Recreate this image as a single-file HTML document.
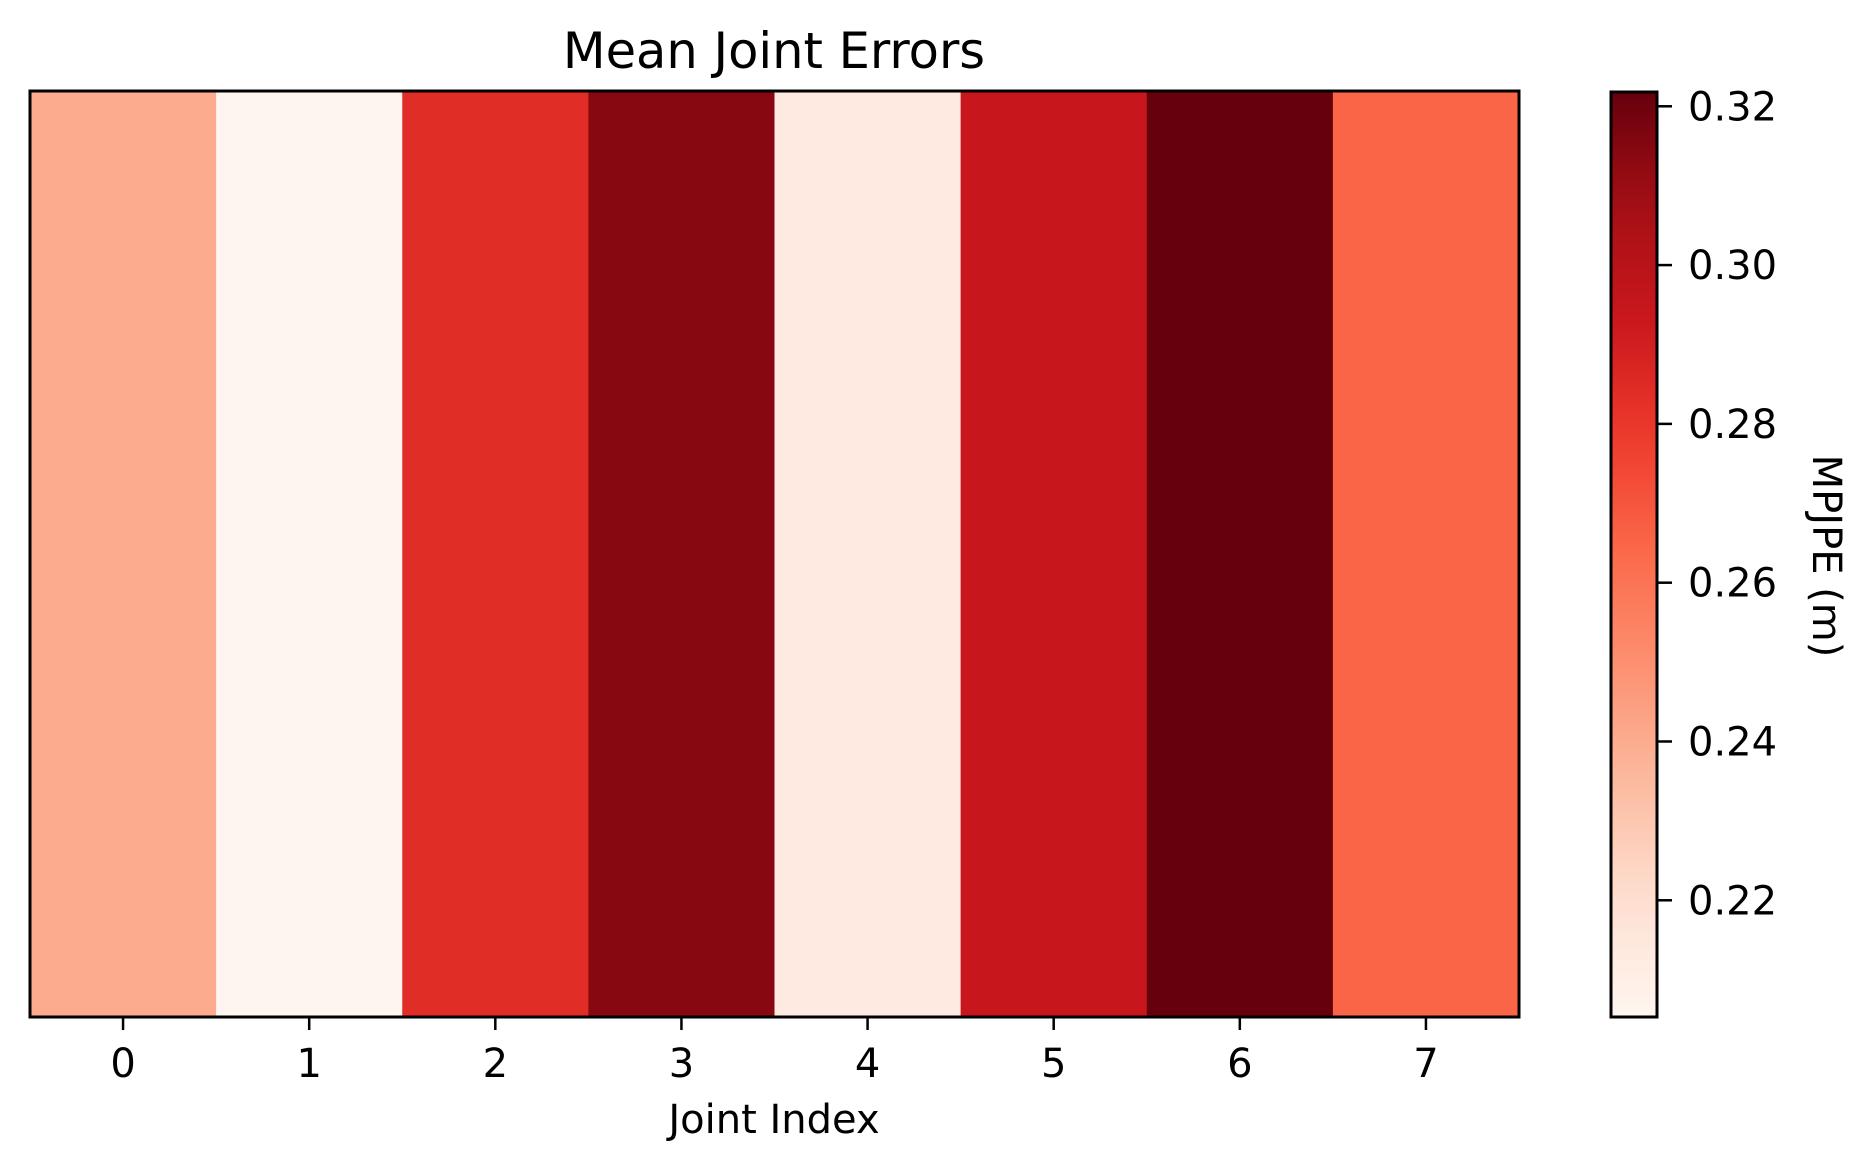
<!DOCTYPE html>
<html><head><meta charset="utf-8"><style>
html,body{margin:0;padding:0;background:#fff;}
svg{display:block;font-family:"DejaVu Sans","Liberation Sans",sans-serif;}
</style></head><body>
<svg id="chart" width="1871" height="1172" viewBox="0 0 1871 1172" xmlns="http://www.w3.org/2000/svg">
<defs><linearGradient id="cbgrad" x1="0" y1="1" x2="0" y2="0"></linearGradient></defs>
<g id="cells"></g>
<rect x="30" y="91" width="1489" height="926" fill="none" stroke="#000" stroke-width="3"/>
<g id="xticks"></g>
<text x="774" y="68" font-size="49.5" text-anchor="middle">Mean Joint Errors</text>
<text x="774" y="1133" font-size="40" text-anchor="middle">Joint Index</text>
<rect id="cbar" x="1611" y="92" width="46" height="925" fill="url(#cbgrad)" stroke="#000" stroke-width="3"/>
<g id="cbticks"></g>
<text transform="translate(1813,556) rotate(90)" font-size="40" text-anchor="middle">MPJPE (m)</text>
</svg>
<script>
const categories = ["0","1","2","3","4","5","6","7"];
const values = [0.240, 0.2053, 0.284, 0.314, 0.213, 0.294, 0.3218, 0.265];
const cbTicks = [0.22, 0.24, 0.26, 0.28, 0.30, 0.32];
const cbTickLabels = ["0.22","0.24","0.26","0.28","0.30","0.32"];

const NS = "http://www.w3.org/2000/svg";
const reds = ["#fff5f0","#fee0d2","#fcbba1","#fc9272","#fb6a4a","#ef3b2c","#cb181d","#a50f15","#67000d"];
function hex(h){return [1,3,5].map(i=>parseInt(h.substr(i,2),16));}
function cmap(t){t=Math.max(0,Math.min(1,t));const p=t*(reds.length-1);const i=Math.min(reds.length-2,Math.floor(p));const f=p-i;const a=hex(reds[i]),b=hex(reds[i+1]);return "rgb("+a.map((v,k)=>Math.round(v+(b[k]-v)*f)).join(",")+")";}
const vmin = Math.min(...values), vmax = Math.max(...values);
const axL=30, axR=1519, axT=91, axB=1017;
const cellW=(axR-axL)/categories.length;
function xCenter(i){return axL+cellW*(i+0.5);}
const cbT=92, cbB=1017;
function yCb(v){return cbB-(v-vmin)/(vmax-vmin)*(cbB-cbT);}

const cells=document.getElementById('cells');
values.forEach((v,i)=>{
  const r=document.createElementNS(NS,'rect');
  
  
  r.setAttribute('x',axL+cellW*i);r.setAttribute('y',axT);
  r.setAttribute('width',cellW+0.6);r.setAttribute('height',axB-axT);
  r.setAttribute('fill',cmap((v-vmin)/(vmax-vmin)));
  cells.appendChild(r);
});
const xt=document.getElementById('xticks');
categories.forEach((c,i)=>{
  const l=document.createElementNS(NS,'line');
  
  
  l.setAttribute('x1',xCenter(i));l.setAttribute('x2',xCenter(i));
  l.setAttribute('y1',axB);l.setAttribute('y2',axB+13);
  l.setAttribute('stroke','#000');l.setAttribute('stroke-width','2.5');
  xt.appendChild(l);
  const t=document.createElementNS(NS,'text');
  
  
  t.setAttribute('x',xCenter(i));t.setAttribute('y',1077);
  t.setAttribute('font-size','40');t.setAttribute('text-anchor','middle');
  t.textContent=c;xt.appendChild(t);
});
const g=document.getElementById('cbgrad');
for(let k=0;k<=20;k++){const s=document.createElementNS(NS,'stop');s.setAttribute('offset',(k/20));s.setAttribute('stop-color',cmap(k/20));g.appendChild(s);}
const cbt=document.getElementById('cbticks');
cbTicks.forEach((v,i)=>{
  const y=yCb(v);
  const l=document.createElementNS(NS,'line');
  
  
  l.setAttribute('x1',1657);l.setAttribute('x2',1672);l.setAttribute('y1',y);l.setAttribute('y2',y);
  l.setAttribute('stroke','#000');l.setAttribute('stroke-width','2.5');
  cbt.appendChild(l);
  const t=document.createElementNS(NS,'text');
  
  
  t.setAttribute('x',1688);t.setAttribute('y',y+14);t.setAttribute('font-size','40');
  t.textContent=cbTickLabels[i];cbt.appendChild(t);
});
</script>
</body></html>
